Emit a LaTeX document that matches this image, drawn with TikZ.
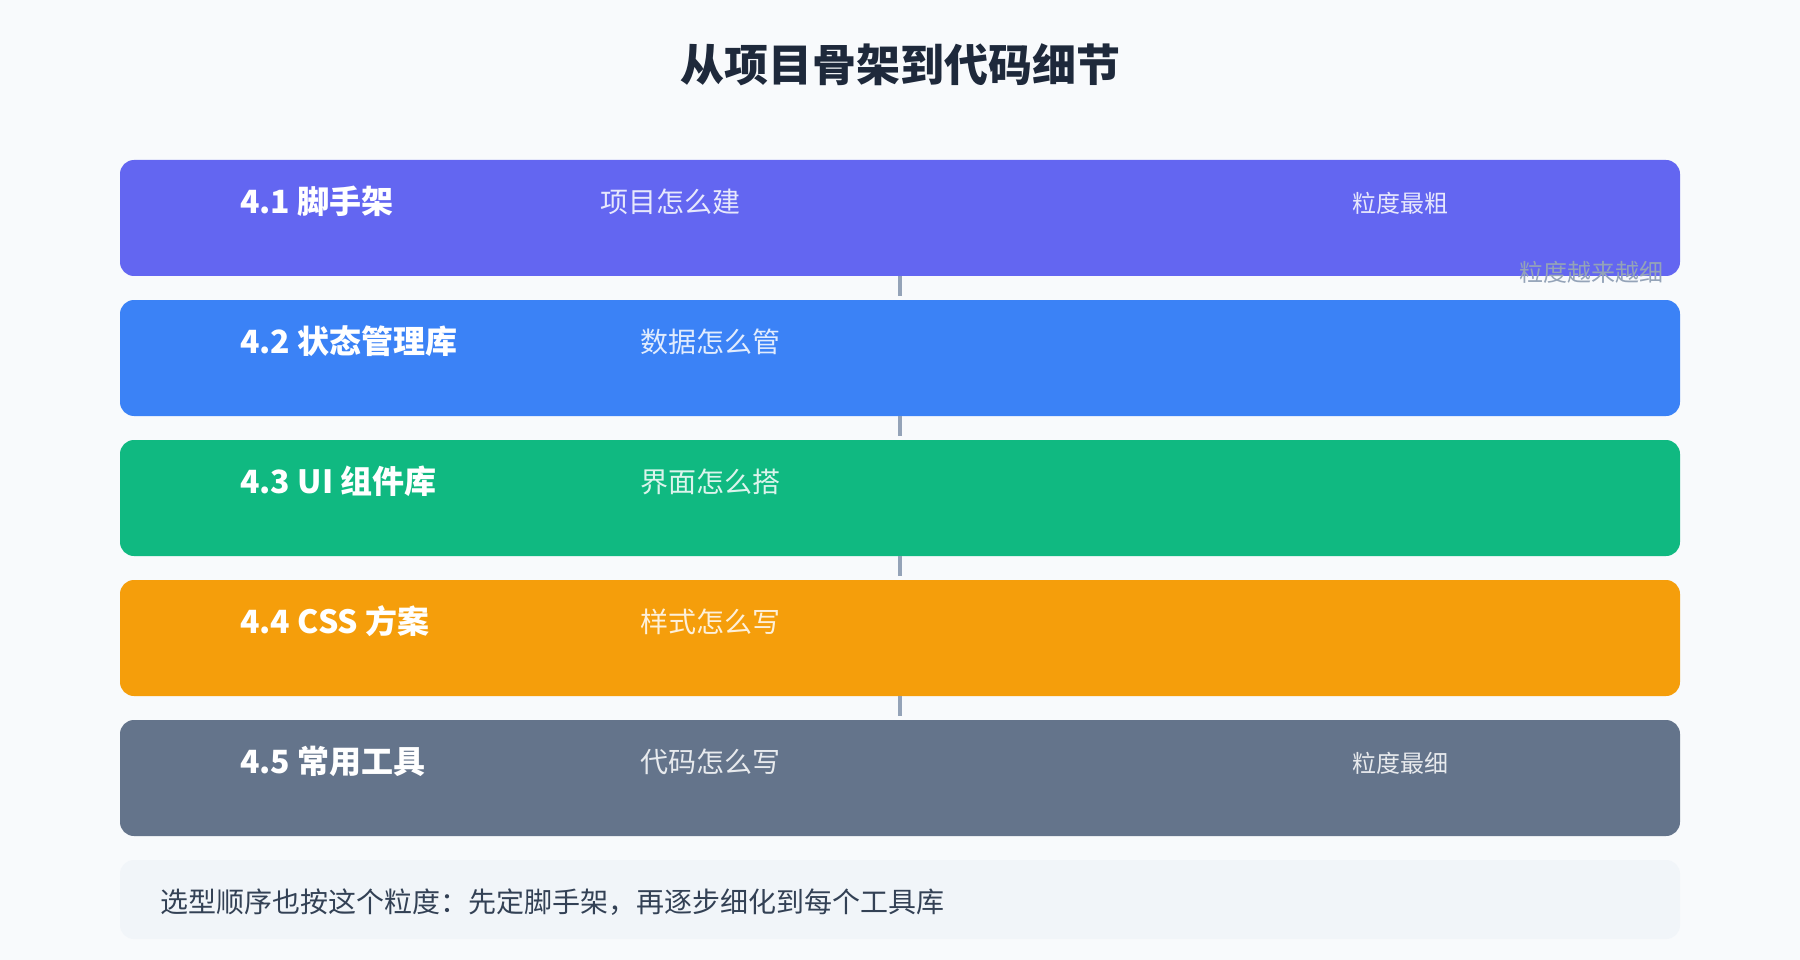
\documentclass[tikz,border=0pt]{standalone}
\usepackage{fontspec}
\setmainfont{Noto Sans CJK SC}
\usetikzlibrary{calc}
\definecolor{pagebg}{HTML}{F8FAFC}
\definecolor{titlecol}{HTML}{1E293B}
\definecolor{stageA}{HTML}{6366F1}
\definecolor{stageB}{HTML}{3B82F6}
\definecolor{stageC}{HTML}{10B981}
\definecolor{stageD}{HTML}{F59E0B}
\definecolor{stageE}{HTML}{64748B}
\definecolor{linkcol}{HTML}{94A3B8}
\definecolor{notebg}{HTML}{F1F5F9}
\definecolor{notetext}{HTML}{334155}
\tikzset{
	stage/.style={rounded corners=14pt, minimum width=1560pt, minimum height=116pt, inner sep=0pt},
	stagename/.style={anchor=west, inner sep=0pt, text=white, font=\fontsize{32}{38}\selectfont\bfseries},
	stagedesc/.style={anchor=west, inner sep=0pt, text=white, text opacity=.85, font=\fontsize{28}{34}\selectfont},
	stagenote/.style={inner sep=0pt, text=white, text opacity=.85, font=\fontsize{24}{30}\selectfont},
	link/.style={draw=linkcol, line width=4pt},
}

\begin{document}
\begin{tikzpicture}[x=1pt,y=-1pt]
	\fill[pagebg] (0,0) rectangle (1800,960);
	\node[text=titlecol, font=\fontsize{44}{52}\selectfont\bfseries] (title) at (900,65) {从项目骨架到代码细节};
	% the five stages, coarse to fine
	\foreach \i/\col/\name/\dx/\desc in {1/stageA/4.1 脚手架/600/项目怎么建, 2/stageB/4.2 状态管理库/640/数据怎么管, 3/stageC/4.3 UI 组件库/640/界面怎么搭, 4/stageD/4.4 CSS 方案/640/样式怎么写, 5/stageE/4.5 常用工具/640/代码怎么写}{
		\node[stage, fill=\col] (s\i) at (900,{218+140*(\i-1)}) {};
		\node[stagename] (n\i) at (240,{201+140*(\i-1)}) {\name};
		\node[stagedesc] (d\i) at (\dx,{202+140*(\i-1)}) {\desc};
	}
	\foreach \i in {1,...,4}{
		\pgfmathtruncatemacro\j{\i+1}
		\draw[link] (s\i.south) -- ([yshift=4pt]s\j.north);
	}
	\node[stagenote] (c1) at (1400,203) {粒度最粗};
	\node[stagenote] (c5) at (1400,763) {粒度最细};
	\node[anchor=east, inner sep=0pt, text=linkcol, font=\fontsize{24}{30}\selectfont] (trend) at (1664,272) {粒度越来越细};
	% closing remark
	\node[stage, fill=notebg, minimum height=79pt] (note) at (900,899.5) {};
	\node[anchor=west, inner sep=0pt, text=notetext, font=\fontsize{28}{34}\selectfont] (notetxt) at (160,902) {选型顺序也按这个粒度：先定脚手架，再逐步细化到每个工具库};
\end{tikzpicture}
\end{document}
